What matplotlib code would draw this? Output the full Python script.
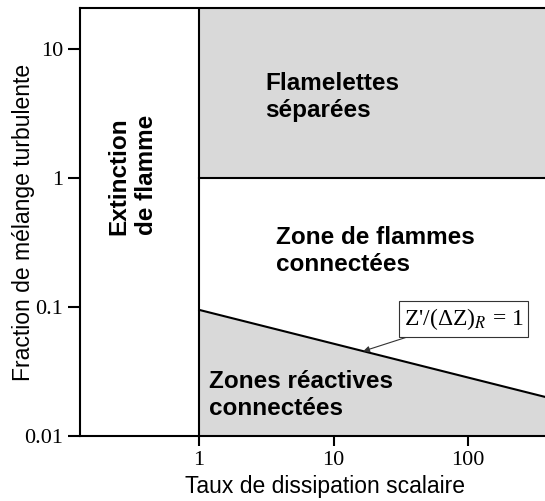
import numpy as np
import matplotlib.pyplot as plt

# Regime boundaries (log-log diagram)
x_ext = 1.0          # extinction limit on the scalar dissipation rate axis
y_sep = 1.0          # separated flamelets above this mixture fraction level
line_x = [1.0, 373.0]          # boundary Z'/(dZ)_R = 1
line_y = [0.095, 0.0201]

xlim = (0.13, 373.0)
ylim = (0.01, 20.8)

xticks = [1, 10, 100]
xtick_labels = ['1', '10', '100']
yticks = [0.01, 0.1, 1, 10]
ytick_labels = ['0.01', '0.1', '1', '10']

gray = '#d9d9d9'
lw = 1.5

plt.rcParams['mathtext.fontset'] = 'stix'

fig = plt.figure(figsize=(5.45, 5.01), dpi=100)
ax = fig.add_axes([80 / 545, 1 - 436 / 501, 465 / 545, 428 / 501])
ax.set_xscale('log')
ax.set_yscale('log')
ax.set_xlim(*xlim)
ax.set_ylim(*ylim)

# boundary line in log-log space
lx = np.logspace(np.log10(line_x[0]), np.log10(line_x[1]), 200)
slope = np.log(line_y[1] / line_y[0]) / np.log(line_x[1] / line_x[0])
ly = line_y[0] * (lx / line_x[0]) ** slope

# shaded regions
ax.fill_between([x_ext, xlim[1]], y_sep, ylim[1], color=gray, lw=0, zorder=1)
ax.fill_between(lx, ylim[0], ly, color=gray, lw=0, zorder=1)

# boundaries
ax.plot([x_ext, x_ext], ylim, color='black', lw=lw, zorder=3)
ax.plot([x_ext, xlim[1]], [y_sep, y_sep], color='black', lw=lw, zorder=3)
ax.plot(lx, ly, color='black', lw=lw, zorder=3)

ax.spines['right'].set_visible(False)
for side in ['left', 'top', 'bottom']:
    ax.spines[side].set_linewidth(lw)

ax.set_xticks(xticks)
ax.set_xticklabels(xtick_labels)
ax.set_yticks(yticks)
ax.set_yticklabels(ytick_labels)
ax.minorticks_off()
ax.tick_params(axis='y', direction='out', length=9, width=lw, pad=3)
ax.tick_params(axis='x', direction='out', length=7, width=lw, pad=4)
for lab in ax.get_xticklabels() + ax.get_yticklabels():
    lab.set_fontfamily('Liberation Serif')
    lab.set_fontsize(16)

# axis titles
fig.text(325 / 545, 1 - 487 / 501, 'Taux de dissipation scalaire', ha='center', va='center',
         family='Liberation Sans', fontsize=16.5)
fig.text(24 / 545, 1 - 222 / 501, 'Fraction de mélange turbulente', ha='center', va='center',
         rotation=90, family='Liberation Sans', fontsize=16.5)

# regime labels
bold = dict(family='Liberation Sans', fontweight='bold', fontsize=17.5, transform=ax.transAxes,
            zorder=4, linespacing=1.25)
ax.text(0.114, 0.610, 'Extinction\nde flamme', rotation=90, ha='center', va='center',
        multialignment='left', **bold)
ax.text(0.398, 0.792, 'Flamelettes\nséparées', ha='left', va='center', **bold)
ax.text(0.422, 0.432, 'Zone de flammes\nconnectées', ha='left', va='center', **bold)
ax.text(0.277, 0.096, 'Zones réactives\nconnectées', ha='left', va='center', **bold)

# annotation of the boundary line
xa = 16.6
ya = line_y[0] * (xa / line_x[0]) ** slope
ax.annotate("Z'/(ΔZ)$_R$ = 1", xy=(xa, ya), xytext=(93, 0.081),
            ha='center', va='center', fontsize=17, family='Liberation Serif', zorder=5,
            bbox=dict(boxstyle='square,pad=0.2', fc='white', ec='#333333', lw=0.8),
            arrowprops=dict(arrowstyle='-|>', color='#333333', lw=0.8,
                            mutation_scale=9, shrinkA=0, shrinkB=0))

fig.savefig('out.png', dpi=100)
